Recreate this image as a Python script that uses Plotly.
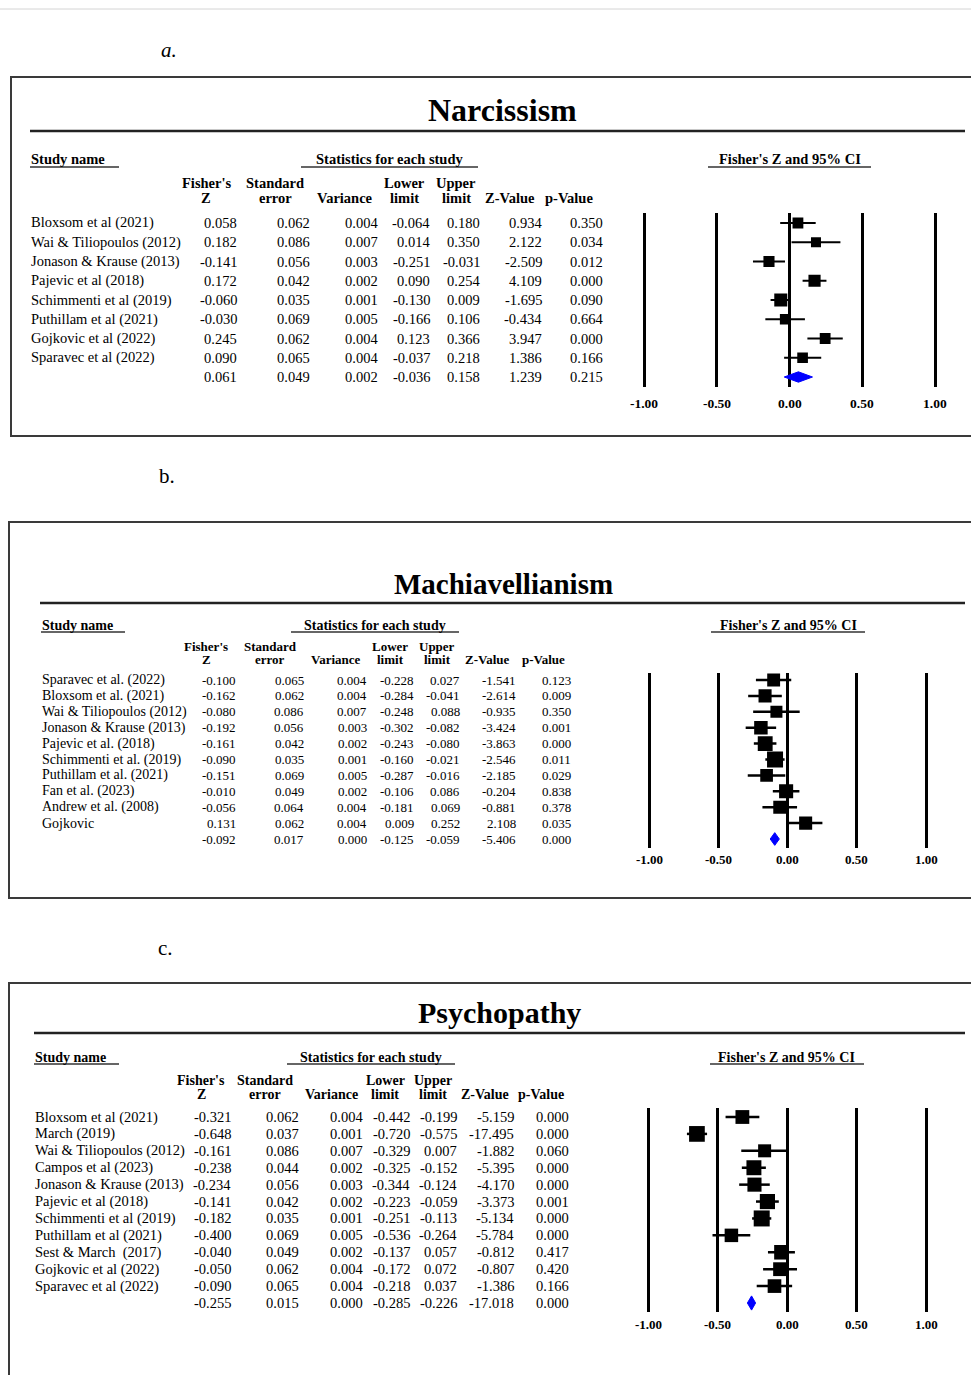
import plotly.graph_objects as go

W, H = 971, 1375
FONT = "Liberation Serif"

# ---------------- DATA ----------------
col_headers = [("Fisher's", "Z"), ("Standard", "error"), ("", "Variance"), ("Lower", "limit"),
               ("Upper", "limit"), ("", "Z-Value"), ("", "p-Value")]
tick_vals = [-1.0, -0.5, 0.0, 0.5, 1.0]
tick_text = ["-1.00", "-0.50", "0.00", "0.50", "1.00"]

narc_studies = ["Bloxsom et al (2021)", "Wai & Tiliopoulos (2012)", "Jonason & Krause (2013)",
                "Pajevic et al (2018)", "Schimmenti et al (2019)", "Puthillam et al (2021)",
                "Gojkovic et al (2022)", "Sparavec et al (2022)", ""]
narc_z = [0.058, 0.182, -0.141, 0.172, -0.060, -0.030, 0.245, 0.090, 0.061]
narc_se = [0.062, 0.086, 0.056, 0.042, 0.035, 0.069, 0.062, 0.065, 0.049]
narc_var = [0.004, 0.007, 0.003, 0.002, 0.001, 0.005, 0.004, 0.004, 0.002]
narc_lower = [-0.064, 0.014, -0.251, 0.090, -0.130, -0.166, 0.123, -0.037, -0.036]
narc_upper = [0.180, 0.350, -0.031, 0.254, 0.009, 0.106, 0.366, 0.218, 0.158]
narc_zval = [0.934, 2.122, -2.509, 4.109, -1.695, -0.434, 3.947, 1.386, 1.239]
narc_p = [0.350, 0.034, 0.012, 0.000, 0.090, 0.664, 0.000, 0.166, 0.215]

mach_studies = ["Sparavec et al. (2022)", "Bloxsom et al. (2021)", "Wai & Tiliopoulos (2012)",
                "Jonason & Krause (2013)", "Pajevic et al. (2018)", "Schimmenti et al. (2019)",
                "Puthillam et al. (2021)", "Fan et al. (2023)", "Andrew et al. (2008)", "Gojkovic", ""]
mach_z = [-0.100, -0.162, -0.080, -0.192, -0.161, -0.090, -0.151, -0.010, -0.056, 0.131, -0.092]
mach_se = [0.065, 0.062, 0.086, 0.056, 0.042, 0.035, 0.069, 0.049, 0.064, 0.062, 0.017]
mach_var = [0.004, 0.004, 0.007, 0.003, 0.002, 0.001, 0.005, 0.002, 0.004, 0.004, 0.000]
mach_lower = [-0.228, -0.284, -0.248, -0.302, -0.243, -0.160, -0.287, -0.106, -0.181, 0.009, -0.125]
mach_upper = [0.027, -0.041, 0.088, -0.082, -0.080, -0.021, -0.016, 0.086, 0.069, 0.252, -0.059]
mach_zval = [-1.541, -2.614, -0.935, -3.424, -3.863, -2.546, -2.185, -0.204, -0.881, 2.108, -5.406]
mach_p = [0.123, 0.009, 0.350, 0.001, 0.000, 0.011, 0.029, 0.838, 0.378, 0.035, 0.000]

psych_studies = ["Bloxsom et al (2021)", "March (2019)", "Wai & Tiliopoulos (2012)", "Campos et al (2023)",
                 "Jonason & Krause (2013)", "Pajevic et al (2018)", "Schimmenti et al (2019)",
                 "Puthillam et al (2021)", "Sest & March  (2017)", "Gojkovic et al (2022)",
                 "Sparavec et al (2022)", ""]
psych_z = [-0.321, -0.648, -0.161, -0.238, -0.234, -0.141, -0.182, -0.400, -0.040, -0.050, -0.090, -0.255]
psych_se = [0.062, 0.037, 0.086, 0.044, 0.056, 0.042, 0.035, 0.069, 0.049, 0.062, 0.065, 0.015]
psych_var = [0.004, 0.001, 0.007, 0.002, 0.003, 0.002, 0.001, 0.005, 0.002, 0.004, 0.004, 0.000]
psych_lower = [-0.442, -0.720, -0.329, -0.325, -0.344, -0.223, -0.251, -0.536, -0.137, -0.172, -0.218, -0.285]
psych_upper = [-0.199, -0.575, 0.007, -0.152, -0.124, -0.059, -0.113, -0.264, 0.057, 0.072, 0.037, -0.226]
psych_zval = [-5.159, -17.495, -1.882, -5.395, -4.170, -3.373, -5.134, -5.784, -0.812, -0.807, -1.386, -17.018]
psych_p = [0.000, 0.000, 0.060, 0.000, 0.000, 0.001, 0.000, 0.000, 0.417, 0.420, 0.166, 0.000]


def X(px):
    return px / W


def Y(py):
    return 1 - py / H


panels = [
    dict(label="a.", label_xy=(160, 50), label_italic=True, box=(11, 77, 436), title="Narcissism",
         title_xy=(502, 110), title_size=32, rule=(131, 30, 965),
         study=(30, 159, 119), stats=(389, 159, 301, 478), fz=(790, 159, 708, 871), underline_dy=8,
         group_size=14.5, head_y=(183, 198), head_x=[206, 275, 345, 404, 456, 510, 569], head_size=14.5,
         name_x=30, val_right=[238, 311, 379, 431, 481, 543, 604], name_size=14.5, row_size=14.5,
         xm1=644, xp1=935, top=213, bottom=387, first=223, last=377, tick_y=404, tick_size=13.5,
         msize=(10, 13), ci_w=2, dh=0.27,
         data=(narc_studies, narc_z, narc_se, narc_var, narc_lower, narc_upper, narc_zval, narc_p)),
    dict(label="b.", label_xy=(158, 476), label_italic=False, box=(9, 522, 898), title="Machiavellianism",
         title_xy=(503, 584), title_size=29, rule=(603, 40, 965),
         study=(41, 625, 125), stats=(375, 625, 291, 459), fz=(788, 625, 711, 865), underline_dy=7,
         group_size=14, head_y=(646, 659), head_x=[206, 270, 336, 390, 437, 488, 543], head_size=13,
         name_x=41, val_right=[237, 305, 368, 415, 461, 517, 572], name_size=14, row_size=13,
         xm1=649, xp1=926, top=673, bottom=848, first=680, last=839, tick_y=859, tick_size=13,
         msize=(12, 16), ci_w=2.5, dh=0.4,
         data=(mach_studies, mach_z, mach_se, mach_var, mach_lower, mach_upper, mach_zval, mach_p)),
    dict(label="c.", label_xy=(157, 948), label_italic=False, box=(9, 983, 1390), title="Psychopathy",
         title_xy=(499, 1013), title_size=30, rule=(1033, 34, 965),
         study=(34, 1057, 119), stats=(371, 1057, 287, 455), fz=(786, 1057, 710, 864), underline_dy=7,
         group_size=14, head_y=(1080, 1094), head_x=[201, 265, 331, 385, 433, 485, 541], head_size=14,
         name_x=34, val_right=[232, 300, 364, 411, 458, 515, 570], name_size=14.5, row_size=14.5,
         xm1=648, xp1=926, top=1108, bottom=1312, first=1117, last=1303, tick_y=1324, tick_size=13,
         msize=(13, 16), ci_w=2.5, dh=0.42,
         data=(psych_studies, psych_z, psych_se, psych_var, psych_lower, psych_upper, psych_zval, psych_p)),
]

fig = go.Figure()
annotations = []
shapes = [dict(type="line", xref="paper", yref="paper", x0=0, x1=1, y0=Y(9), y1=Y(9),
               line=dict(color="#d4d4d4", width=1))]


def txt(x, y, text, size, anchor="left", bold=False, italic=False, yref="paper", xref="paper"):
    t = f"<b>{text}</b>" if bold else text
    if italic:
        t = f"<i>{t}</i>"
    annotations.append(dict(x=(X(x) if xref == "paper" else x), y=(Y(y) if yref == "paper" else y),
                            xref=xref, yref=yref,
                            text=t, showarrow=False, xanchor=anchor, yanchor="middle",
                            font=dict(family=FONT, size=size, color="black"), borderpad=0))


def hline(y, x0, x1, w=1.5, color="#333333"):
    shapes.append(dict(type="line", xref="paper", yref="paper", x0=X(x0), x1=X(x1), y0=Y(y), y1=Y(y),
                       line=dict(color=color, width=w)))


for i, p in enumerate(panels, start=1):
    names, z, se, var, lo, up, zv, pv = p["data"]
    n = len(names) - 1
    sfx = "" if i == 1 else str(i)
    yref = "y" + sfx
    xref = "x" + sfx

    # frame, label, title
    bx0, by0, by1 = p["box"]
    shapes.append(dict(type="rect", xref="paper", yref="paper", x0=X(bx0), x1=X(W + 10),
                       y0=Y(by1), y1=Y(by0), line=dict(color="#3a3a3a", width=2)))
    txt(p["label_xy"][0], p["label_xy"][1], p["label"], 21, "left", italic=p["label_italic"])
    txt(p["title_xy"][0], p["title_xy"][1], p["title"], p["title_size"], "center", bold=True)
    ry, rx0, rx1 = p["rule"]
    hline(ry, rx0, rx1, w=2.5, color="#222222")

    # group headers
    gs = p["group_size"]
    sx, sy, sx1 = p["study"]
    txt(sx, sy, "Study name", gs, "left", bold=True)
    hline(sy + p["underline_dy"], sx, sx1)
    cx, cy, ux0, ux1 = p["stats"]
    txt(cx, cy, "Statistics for each study", gs, "center", bold=True)
    hline(cy + p["underline_dy"], ux0, ux1)
    fx, fy, fx0, fx1 = p["fz"]
    txt(fx, fy, "Fisher's Z and 95% CI", gs, "center", bold=True)
    hline(fy + p["underline_dy"], fx0, fx1)

    # column headers
    for (h1, h2), hx in zip(col_headers, p["head_x"]):
        if h1:
            txt(hx, p["head_y"][0], h1, p["head_size"], "center", bold=True)
        txt(hx, p["head_y"][1], h2, p["head_size"], "center", bold=True)

    # table rows (aligned on the forest plot's y scale)
    for r in range(n + 1):
        if names[r]:
            txt(p["name_x"], r, names[r], p["name_size"], "left", yref=yref)
        for col, xr in zip((z, se, var, lo, up, zv, pv), p["val_right"]):
            txt(xr, r, f"{col[r]:.3f}", p["row_size"], "right", yref=yref)

    # tick labels placed on the x scale
    for tv, tt in zip(tick_vals, tick_text):
        txt(tv, p["tick_y"], tt, p["tick_size"], "center", bold=True, xref=xref)

    # axes geometry
    unit = (p["xp1"] - p["xm1"]) / 2
    xl, xr_ = p["xm1"] - 0.1 * unit, p["xp1"] + 0.1 * unit
    sp = (p["last"] - p["first"]) / n
    ytop = -(p["first"] - p["top"]) / sp
    ybot = n + (p["bottom"] - p["last"]) / sp

    fig.layout["xaxis" + sfx] = dict(domain=[X(xl), X(xr_)], range=[-1.1, 1.1], anchor=yref,
                                     tickvals=tick_vals, showticklabels=False, showgrid=True,
                                     gridcolor="black", gridwidth=3, zeroline=True,
                                     zerolinecolor="black", zerolinewidth=3, showline=False,
                                     ticks="", fixedrange=True)
    fig.layout["yaxis" + sfx] = dict(domain=[Y(p["bottom"]), Y(p["top"])], range=[ybot, ytop],
                                     anchor=xref, visible=False, showgrid=False, zeroline=False,
                                     fixedrange=True)

    # study squares with CI lines
    inv = [1 / s for s in se[:n]]
    lo_i, hi_i = min(inv), max(inv)
    smin, smax = p["msize"]
    sizes = [smin + (smax - smin) * (v - lo_i) / (hi_i - lo_i) for v in inv]
    fig.add_trace(go.Scatter(
        x=z[:n], y=list(range(n)), mode="markers", xaxis=xref, yaxis=yref,
        marker=dict(symbol="square", color="black", size=sizes, opacity=1, line=dict(width=0)),
        error_x=dict(type="data", symmetric=False,
                     array=[u - e for u, e in zip(up[:n], z[:n])],
                     arrayminus=[e - l for e, l in zip(z[:n], lo[:n])],
                     color="black", thickness=p["ci_w"], width=0),
        showlegend=False, hoverinfo="skip"))

    # pooled diamond
    h = p["dh"]
    fig.add_trace(go.Scatter(
        x=[lo[n], z[n], up[n], z[n], lo[n]], y=[n, n - h, n, n + h, n],
        mode="lines", fill="toself", fillcolor="#0000ff", line=dict(color="#0000ff", width=1),
        xaxis=xref, yaxis=yref, showlegend=False, hoverinfo="skip"))

fig.update_layout(width=W, height=H, margin=dict(l=0, r=0, t=0, b=0), autosize=False,
                  paper_bgcolor="white", plot_bgcolor="white", showlegend=False,
                  font=dict(family=FONT, color="black"),
                  annotations=annotations, shapes=shapes)

fig.write_html("out.html", config={"displayModeBar": False},
               post_script="document.body.style.margin='0';document.body.style.overflow='hidden';")
